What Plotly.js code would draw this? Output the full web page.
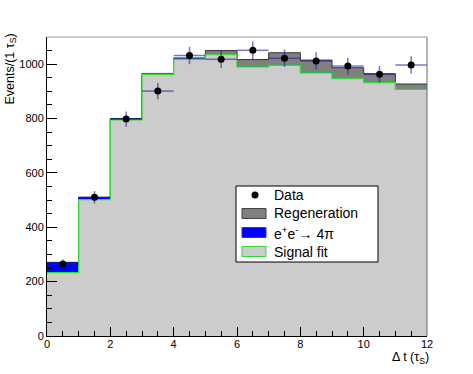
<!DOCTYPE html>
<html>
<head>
<meta charset="utf-8">
<script src="https://cdn.plot.ly/plotly-3.0.1.min.js"></script>
<style>html,body{margin:0;padding:0;background:#fff;}#chart{width:473px;height:374px;}</style>
</head>
<body>
<div id="chart"></div>
<script>
// Bin edges (Δt in units of τ_S) and bin centers
const binEdges   = [0,1,2,3,4,5,6,7,8,9,10,11,12];
const binCenters = [0.5,1.5,2.5,3.5,4.5,5.5,6.5,7.5,8.5,9.5,10.5,11.5];
// Stacked components (events per bin)
const signalFit    = [233, 502, 795, 963, 1018, 1035, 990, 996, 968, 947, 932, 907];
const fourPi       = [ 36,   6,   3,   1,    1,    0,   0,   0,   0,   0,   0,   0];
const regeneration = [  2,   2,   2,   2,    4,   15,  27,  46,  47,  40,  33,  20];
// Data
const dataCounts = [265, 510, 798, 901, 1032, 1018, 1051, 1022, 1012, 993, 963, 997];
const dataErrors = [16, 23, 28, 30, 32, 32, 32, 32, 32, 31, 31, 32];
// Legend labels
const legendLabels = ['Data', 'Regeneration', 'e<sup>+</sup>e<sup>-</sup>→ 4π', 'Signal fit'];

function stepY(v){ return v.concat([v[v.length-1]]); }
const sig = signalFit;
const sigPi = signalFit.map((v,i)=>v+fourPi[i]);
const total = sigPi.map((v,i)=>v+regeneration[i]);

const fam = 'Liberation Sans, Arial, sans-serif';

const traces = [
  {x:binEdges, y:stepY(total), type:'scatter', mode:'lines', line:{shape:'hv', color:'#333333', width:1},
   fill:'tozeroy', fillcolor:'#808080', name:legendLabels[1], hoverinfo:'skip'},
  {x:binEdges, y:stepY(sigPi), type:'scatter', mode:'lines', line:{shape:'hv', color:'#0000cc', width:1},
   fill:'tozeroy', fillcolor:'#0000ff', name:legendLabels[2], hoverinfo:'skip'},
  {x:binEdges, y:stepY(sig), type:'scatter', mode:'lines', line:{shape:'hv', color:'#33dd33', width:1.3},
   fill:'tozeroy', fillcolor:'#cccccc', name:legendLabels[3], hoverinfo:'skip'},
  {x:binCenters, y:dataCounts, type:'scatter', mode:'markers', name:legendLabels[0],
   marker:{color:'#000', size:7},
   error_x:{type:'constant', value:0.5, color:'rgba(30,30,160,0.6)', thickness:1.5, width:0},
   error_y:{type:'data', array:dataErrors, color:'rgba(30,30,160,0.6)', thickness:1.5, width:0}}
];

// Manual legend geometry (pixels -> paper)
const L = 47, T = 37, PW = 380, PH = 299;
const px = v => (v - L) / PW;
const py = v => (T + PH - v) / PH;
const rowY = [195, 213.5, 232.5, 251.5];
const boxStyles = [
  null,
  {fill:'#808080', line:'#444444'},
  {fill:'#0000ff', line:'#3333cc'},
  {fill:'#cccccc', line:'#33dd33'}
];

const shapes = [
  {type:'line', xref:'paper', yref:'paper', x0:0, x1:1, y0:1, y1:1, line:{color:'#999', width:1}},
  {type:'line', xref:'paper', yref:'paper', x0:1, x1:1, y0:0, y1:1, line:{color:'#666', width:1}},
  {type:'rect', xref:'paper', yref:'paper', x0:px(236), x1:px(378), y0:py(262), y1:py(186),
   fillcolor:'#fff', line:{color:'#000', width:1}, layer:'above'},
  {type:'circle', xref:'paper', yref:'paper', x0:px(251.5), x1:px(258.5), y0:py(rowY[0]+3.5), y1:py(rowY[0]-3.5),
   fillcolor:'#000', line:{color:'#000', width:0}, layer:'above'}
];
for (let i = 1; i < 4; i++) {
  shapes.push({type:'rect', xref:'paper', yref:'paper', x0:px(242), x1:px(266),
    y0:py(rowY[i]+5), y1:py(rowY[i]-5), fillcolor:boxStyles[i].fill,
    line:{color:boxStyles[i].line, width:1}, layer:'above'});
}

const annotations = [
  {text:'Events/(1 τ<sub>S</sub>)', xref:'paper', yref:'paper', x:px(10), y:py(32), xanchor:'center', yanchor:'top',
   textangle:-90, showarrow:false, font:{family:fam, size:12.5, color:'#000'}},
  {text:'Δ t (τ<sub>S</sub>)', xref:'paper', yref:'paper', x:px(431), y:py(358), xanchor:'right', yanchor:'middle',
   showarrow:false, font:{family:fam, size:12.5, color:'#000'}}
];
legendLabels.forEach((t, i) => {
  annotations.push({text:t, xref:'paper', yref:'paper', x:px(272), y:py(rowY[i]), xanchor:'left', yanchor:'middle',
    showarrow:false, font:{family:fam, size:14, color:'#000'}});
});

const layout = {
  width:473, height:374,
  margin:{l:L, r:473-L-PW, t:T, b:374-T-PH},
  paper_bgcolor:'#fff', plot_bgcolor:'#fff',
  font:{family:fam, color:'#000'},
  showlegend:false,
  xaxis:{range:[0,12], dtick:2, tick0:0, ticks:'inside', ticklen:9, tickcolor:'#000', tickwidth:1,
         showgrid:false, zeroline:false, showline:true, linecolor:'#000', linewidth:1, ticklabelstandoff:-2,
         tickfont:{family:fam, size:11, color:'#000'},
         minor:{dtick:0.5, ticks:'inside', ticklen:5, tickcolor:'#000', showgrid:false}},
  yaxis:{range:[0,1100], dtick:200, tick0:0, ticks:'inside', ticklen:10, tickcolor:'#000', tickwidth:1,
         showgrid:false, zeroline:false, showline:true, linecolor:'#000', linewidth:1,
         tickfont:{family:fam, size:11, color:'#000'},
         minor:{dtick:50, ticks:'inside', ticklen:5, tickcolor:'#000', showgrid:false}},
  shapes:shapes,
  annotations:annotations
};

Plotly.newPlot('chart', traces, layout, {displayModeBar:false, staticPlot:true});
</script>
</body>
</html>
